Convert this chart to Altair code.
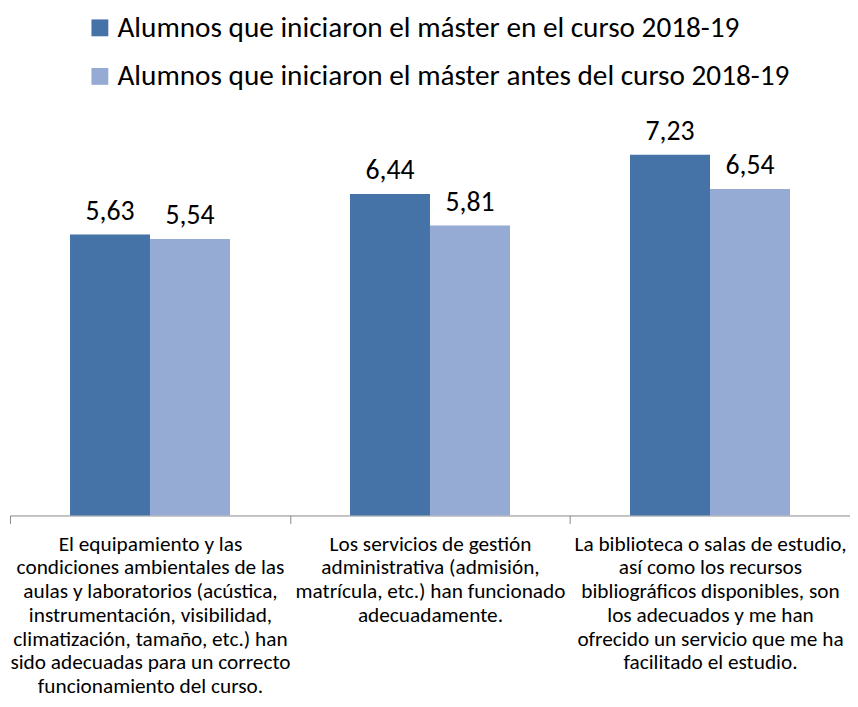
import altair as alt
import pandas as pd

categories = [
    "El equipamiento y las|condiciones ambientales de las|aulas y laboratorios (acústica,|instrumentación, visibilidad,|climatización, tamaño, etc.) han|sido adecuadas para un correcto|funcionamiento del curso.",
    "Los servicios de gestión|administrativa (admisión,|matrícula, etc.) han funcionado|adecuadamente.",
    "La biblioteca o salas de estudio,|así como los recursos|bibliográficos disponibles, son|los adecuados y me han|ofrecido un servicio que me ha|facilitado el estudio.",
]
series = [
    "Alumnos que iniciaron el máster en el curso 2018-19",
    "Alumnos que iniciaron el máster antes del curso 2018-19",
]
values_2018_19 = [5.63, 6.44, 7.23]
values_before = [5.54, 5.81, 6.54]
colors = ["#4573a8", "#95abd3"]

rows = []
for i, c in enumerate(categories):
    rows.append({"cat": c, "serie": series[0], "value": values_2018_19[i]})
    rows.append({"cat": c, "serie": series[1], "value": values_before[i]})
df = pd.DataFrame(rows)

FONT = "Carlito, Lato, sans-serif"

base = alt.Chart(df).encode(
    x=alt.X("cat:N", sort=categories, title=None,
            scale=alt.Scale(paddingInner=0, paddingOuter=0),
            axis=alt.Axis(labelExpr="split(datum.label, '|')", labelAngle=0,
                          tickBand="extent", domainColor="#868686", tickColor="#868686",
                          tickSize=8, labelFontSize=21.5, labelLineHeight=24,
                          labelPadding=10, labelLimit=400, labelColor="#000000",
                          labelFont=FONT, labelBaseline="top", grid=False)),
    xOffset=alt.XOffset("serie:N", sort=series,
                        scale=alt.Scale(paddingInner=0, paddingOuter=0.75)),
    y=alt.Y("value:Q", scale=alt.Scale(domain=[0, 8]), axis=None),
)

bars = base.mark_bar().encode(
    color=alt.Color("serie:N", sort=series,
                    scale=alt.Scale(domain=series, range=colors),
                    legend=alt.Legend(title=None, orient="none", legendX=76, legendY=-104,
                                      symbolType="square", symbolSize=290, symbolStrokeWidth=0,
                                      labelFontSize=29.5, labelFont=FONT, labelColor="#000000",
                                      rowPadding=18, labelLimit=800, labelOffset=3)),
)

labels = base.transform_calculate(
    lbl="replace(format(datum.value, '.2f'), '.', ',')"
).mark_text(baseline="bottom", dy=-9, fontSize=28, font=FONT, color="#000000").encode(
    text="lbl:N"
)

chart = alt.layer(bars, labels).properties(
    width=848, height=403,
    autosize=alt.AutoSizeParams(type="none"),
    padding={"left": 2, "top": 106, "right": 0, "bottom": 182},
).configure_view(stroke=None)

chart.save("out.html", embed_options={"renderer": "svg", "actions": False})
